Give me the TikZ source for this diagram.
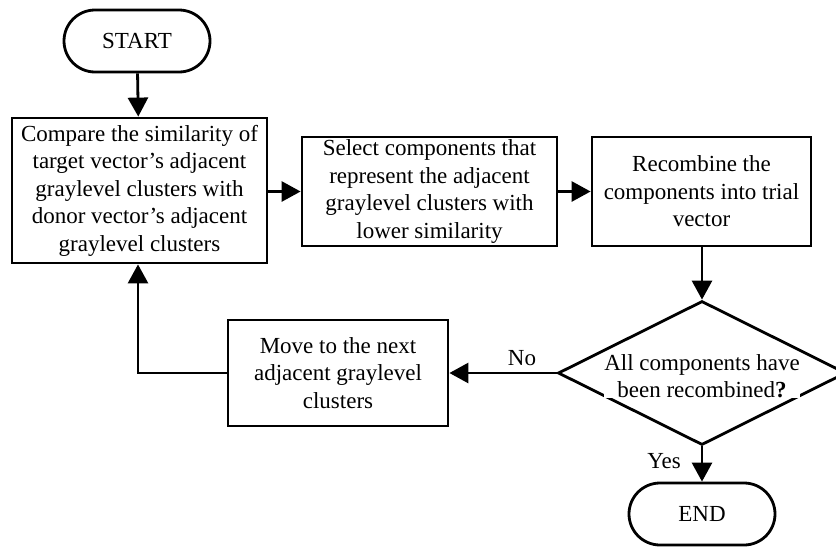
\documentclass[tikz,border=0pt]{standalone}
\usepackage{fontspec}
\setmainfont{Liberation Serif}
\usetikzlibrary{shapes.misc,shapes.geometric,arrows.meta}
\begin{document}
\begin{tikzpicture}[x=1pt,y=-1pt,
  every node/.style={font=\fontsize{23}{27.5}\selectfont},
  box/.style={draw,line width=2.8pt,rectangle,align=center,inner sep=0pt},
  term/.style={draw,line width=2.8pt,rounded rectangle,minimum width=146pt,minimum height=62pt,inner sep=0pt},
  dec/.style={draw,line width=2.8pt,diamond,aspect=2,minimum width=288pt,minimum height=144pt,inner sep=0pt},
  flow/.style={line width=2.8pt,-{Triangle[length=19pt,width=20pt]}},
  lbl/.style={font=\fontsize{23}{27.5}\selectfont,inner sep=0pt}]
\useasboundingbox (0,0) rectangle (836,552);
\node[term] (start) at (137,41) {START};
\node[box,minimum width=255pt,minimum height=145pt] (b1) at (139.5,190.5)
  {Compare the similarity of\\target vector’s adjacent\\graylevel clusters with\\donor vector’s adjacent\\graylevel clusters};
\node[box,minimum width=255pt,minimum height=109pt] (b2) at (429.5,191.5)
  {Select components that\\represent the adjacent\\graylevel clusters with\\lower similarity};
\node[box,minimum width=219pt,minimum height=109pt] (b3) at (701.5,191.5)
  {Recombine the\\components into trial\\vector};
\node[dec] (d) at (702,373) {};
\node[align=center,inner sep=0pt,fill=white] (dt) at (702,376) {All components have\\been recombined\textbf{?}};
\node[box,minimum width=220pt,minimum height=106pt] (b4) at (338,373)
  {Move to the next\\adjacent graylevel\\clusters};
\node[term] (end) at (702,514) {END};
\coordinate (c1) at (138,373);
\draw[flow] (start) -- (b1);
\draw[flow] (b1.east |- b2.west) -- (b2.west);
\draw[flow] (b2) -- (b3);
\draw[flow] (b3.south -| d.north) -- (d.north);
\draw[flow] (d.west) -- (b4.east);
\node[lbl] (no) at (522,358) {No};
\draw[flow] (b4.west) -- (c1) -- (c1 |- b1.south);
\draw[flow] (d.south) -- (end.north);
\node[lbl] (yes) at (664,461) {Yes};
\end{tikzpicture}
\end{document}
